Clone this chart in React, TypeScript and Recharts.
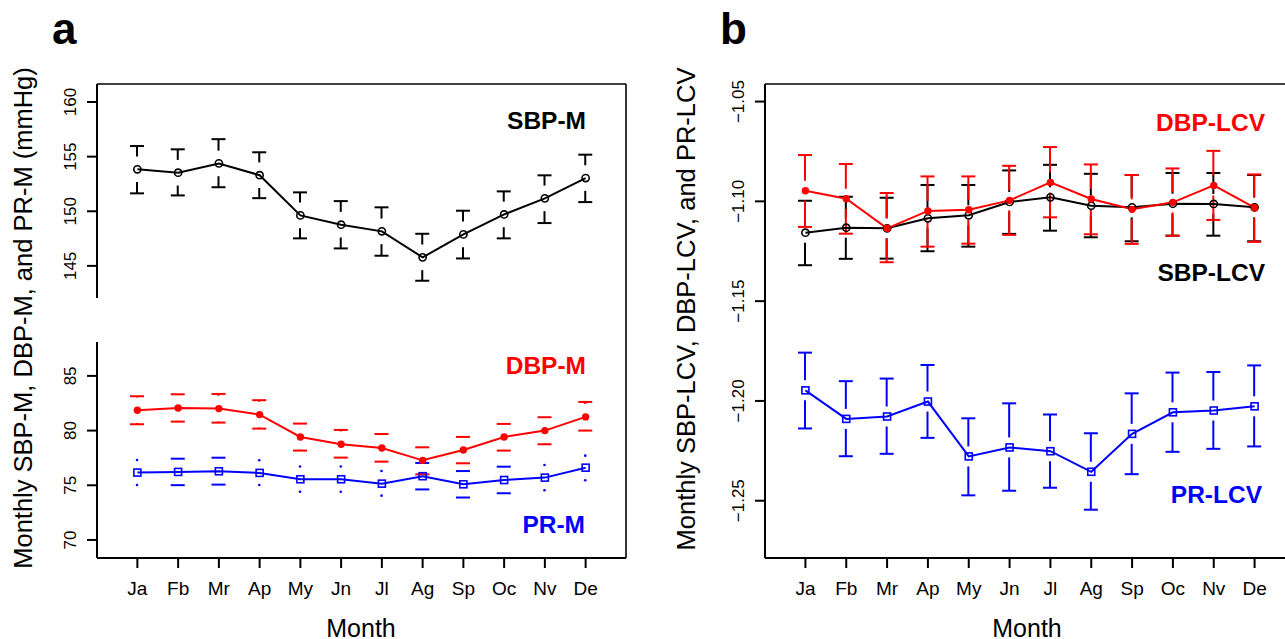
import React from "react";
import { ComposedChart, Line, Bar, XAxis, YAxis } from "recharts";

const months = ["Ja", "Fb", "Mr", "Ap", "My", "Jn", "Jl", "Ag", "Sp", "Oc", "Nv", "De"];

// panel a, mmHg
const sbpM = [153.84, 153.53, 154.38, 153.3, 149.62, 148.77, 148.16, 145.78, 147.88, 149.71, 151.18, 153.04];
const sbpMHi = [155.97, 155.67, 156.6, 155.4, 151.73, 150.93, 150.36, 147.94, 150.05, 151.82, 153.29, 155.18];
const sbpMLo = [151.64, 151.45, 152.2, 151.2, 147.52, 146.6, 145.93, 143.64, 145.68, 147.52, 148.92, 150.84];

const dbpM = [81.86, 82.07, 82.01, 81.46, 79.42, 78.75, 78.41, 77.28, 78.23, 79.42, 80.0, 81.25];
const dbpMHi = [83.14, 83.32, 83.35, 82.78, 80.64, 80.06, 79.69, 78.47, 79.42, 80.61, 81.22, 82.62];
const dbpMLo = [80.58, 80.82, 80.73, 80.18, 78.17, 77.53, 77.16, 76.0, 77.01, 78.17, 78.75, 80.0];

const prM = [76.16, 76.22, 76.28, 76.13, 75.55, 75.55, 75.15, 75.83, 75.09, 75.48, 75.7, 76.61];
const prMHi = [77.31, 77.43, 77.52, 77.29, 76.71, 76.71, 76.31, 77.04, 76.3, 76.7, 76.86, 77.71];
const prMLo = [75.03, 75.01, 75.06, 75.03, 74.41, 74.41, 74.05, 74.62, 73.88, 74.27, 74.54, 75.46];

// panel b, log CV
const sbpLcv = [-1.1157, -1.1132, -1.1135, -1.1085, -1.107, -1.1003, -1.098, -1.1022, -1.103, -1.1012, -1.1013, -1.103];
const sbpLcvHi = [-1.0997, -1.0977, -1.0982, -1.0918, -1.0918, -1.0845, -1.0817, -1.0862, -1.0868, -1.0858, -1.0858, -1.0868];
const sbpLcvLo = [-1.132, -1.1288, -1.1287, -1.125, -1.1227, -1.1163, -1.1147, -1.118, -1.12, -1.1172, -1.1172, -1.12];

const dbpLcv = [-1.0947, -1.0987, -1.1135, -1.1048, -1.1042, -1.0995, -1.0905, -1.0988, -1.104, -1.1005, -1.092, -1.1032];
const dbpLcvHi = [-1.0768, -1.0813, -1.0958, -1.0875, -1.0875, -1.0822, -1.0728, -1.0815, -1.0868, -1.0835, -1.0747, -1.0865];
const dbpLcvLo = [-1.1128, -1.1162, -1.1305, -1.1227, -1.1212, -1.1168, -1.108, -1.1165, -1.1213, -1.1172, -1.1093, -1.1203];

const prLcv = [-1.1947, -1.209, -1.2078, -1.2003, -1.2278, -1.2233, -1.2252, -1.2355, -1.2165, -1.2057, -1.2048, -1.2027];
const prLcvHi = [-1.1758, -1.1901, -1.1888, -1.182, -1.2087, -1.2012, -1.2068, -1.2162, -1.1962, -1.1858, -1.1855, -1.1822];
const prLcvLo = [-1.2138, -1.2277, -1.2265, -1.2185, -1.2473, -1.245, -1.2435, -1.2545, -1.2367, -1.2255, -1.224, -1.2228];

const sbpTicks = [145, 150, 155, 160];
const lowTicks = [70, 75, 80, 85];
const lcvTicks = [-1.05, -1.1, -1.15, -1.2, -1.25];

const FONT = '"Liberation Sans", Arial, Helvetica, sans-serif';

const rowsA = months.map((m, i) => ({
  m,
  sbp: sbpM[i], sbpLo: sbpMLo[i], sbpHi: sbpMHi[i],
  dbp: dbpM[i], dbpLo: dbpMLo[i], dbpHi: dbpMHi[i],
  pr: prM[i], prLo: prMLo[i], prHi: prMHi[i],
}));

const rowsB = months.map((m, i) => ({
  m,
  sbp: sbpLcv[i], sbpLo: sbpLcvLo[i], sbpHi: sbpLcvHi[i],
  dbp: dbpLcv[i], dbpLo: dbpLcvLo[i], dbpHi: dbpLcvHi[i],
  pr: prLcv[i], prLo: prLcvLo[i], prHi: prLcvHi[i],
}));

type Spec = { key: string; color: string; marker: "circle" | "dot" | "square" };

// plotCI-like bar: stems stop short of the point, cap at the end, dot if nothing left
function errShape(key: string, color: string, gap: number) {
  return (props: any) => {
    const { x, y, width, height, payload, index } = props;
    if (x == null || y == null || !payload) return <g key={index} />;
    const top = Math.min(y, y + height);
    const bot = Math.max(y, y + height);
    const hi = payload[key + "Hi"];
    const lo = payload[key + "Lo"];
    const ppu = (bot - top) / (hi - lo);
    const my = top + (hi - payload[key]) * ppu;
    const cx = x + width / 2;
    const out: React.ReactNode[] = [];
    [[top, -1], [bot, 1]].forEach(([capY, dir], j) => {
      const end = my + dir * gap;
      const len = dir * (capY - end);
      if (len > 0.2) {
        out.push(<line key={"s" + j} x1={cx} y1={end} x2={cx} y2={capY} stroke={color} strokeWidth={2} />);
        out.push(<line key={"c" + j} x1={cx - 7} y1={capY} x2={cx + 7} y2={capY} stroke={color} strokeWidth={2} />);
      } else {
        out.push(<circle key={"d" + j} cx={cx} cy={capY} r={1.3} fill={color} />);
      }
    });
    return <g key={index}>{out}</g>;
  };
}

function marker(s: Spec) {
  return (p: any) => {
    const { cx, cy, index } = p;
    const k = s.key + "-" + index;
    if (cx == null || cy == null) return <g key={k} />;
    if (s.marker === "square")
      return <rect key={k} x={cx - 3.5} y={cy - 3.5} width={7} height={7} fill="none" stroke={s.color} strokeWidth={1.6} />;
    if (s.marker === "dot") return <circle key={k} cx={cx} cy={cy} r={3.7} fill={s.color} />;
    return <circle key={k} cx={cx} cy={cy} r={3.6} fill="none" stroke={s.color} strokeWidth={1.6} />;
  };
}

const RotTick = (props: any) => {
  const { x, y, payload, fmt } = props;
  return (
    <text transform={`translate(${x},${y}) rotate(-90)`} textAnchor="middle" fontSize={17} fill="#000" fontFamily={FONT}>
      {fmt(payload.value)}
    </text>
  );
};

const axisStroke = { stroke: "#000", strokeWidth: 2 };

function Panel(props: {
  data: any[];
  specs: Spec[];
  left: number;
  top: number;
  width: number;
  height: number;
  margin: { top: number; right: number; bottom: number; left: number };
  domain: [number, number];
  ticks: number[];
  fmtY: (v: number) => string;
  showX: boolean;
  gap: number;
}) {
  const { data, specs, left, top, width, height, margin, domain, ticks, fmtY, showX, gap } = props;
  return (
    <div style={{ position: "absolute", left, top, width, height }}>
      <ComposedChart width={width} height={height} data={data} margin={margin}>
        <XAxis
          xAxisId="x"
          dataKey="m"
          type="category"
          interval={0}
          padding={{ left: 20, right: 20 }}
          hide={!showX}
          height={showX ? 50 : 0}
          tickSize={10}
          tickMargin={13.5}
          tick={{ fontSize: 19, fill: "#000", fontFamily: FONT }}
          axisLine={axisStroke}
          tickLine={axisStroke}
        />
        {specs.map((s, i) => (
          <XAxis
            key={"ax" + s.key}
            xAxisId={"e" + i}
            dataKey="m"
            type="category"
            orientation="top"
            height={0}
            padding={{ left: 20, right: 20 }}
            hide
          />
        ))}
        <YAxis
          type="number"
          domain={domain}
          ticks={ticks}
          allowDataOverflow
          interval={0}
          width={60}
          tickSize={10}
          tickMargin={11.5}
          axisLine={axisStroke}
          tickLine={axisStroke}
          tick={(p: any) => <RotTick {...p} fmt={fmtY} />}
        />
        {specs.map((s, i) => (
          <Bar
            key={"b" + s.key}
            xAxisId={"e" + i}
            dataKey={(d: any) => [d[s.key + "Lo"], d[s.key + "Hi"]]}
            barSize={2}
            shape={errShape(s.key, s.color, gap)}
            isAnimationActive={false}
          />
        ))}
        {specs.map((s) => (
          <Line
            key={"l" + s.key}
            xAxisId="x"
            dataKey={s.key}
            stroke={s.color}
            strokeWidth={2}
            dot={marker(s)}
            activeDot={false}
            isAnimationActive={false}
          />
        ))}
      </ComposedChart>
    </div>
  );
}

const fmtInt = (v: number) => String(v);
const fmtLcv = (v: number) => v.toFixed(2).replace("-", "\u2212");

export default function App() {
  return (
    <div
      style={{
        position: "absolute",
        left: 0,
        top: 0,
        width: 1285,
        height: 639,
        overflow: "hidden",
        background: "#fff",
        fontFamily: FONT,
      }}
    >
      <Panel
        data={rowsA}
        specs={[{ key: "sbp", color: "#000000", marker: "circle" }]}
        left={0}
        top={0}
        width={640}
        height={300}
        margin={{ top: 84, right: 14, bottom: 2, left: 37 }}
        domain={[142.06, 161.65]}
        ticks={sbpTicks}
        fmtY={fmtInt}
        showX={false}
        gap={12.8}
      />
      <Panel
        data={rowsA}
        specs={[
          { key: "dbp", color: "#ff0000", marker: "dot" },
          { key: "pr", color: "#0000ff", marker: "square" },
        ]}
        left={0}
        top={330}
        width={640}
        height={309}
        margin={{ top: 12, right: 14, bottom: 31, left: 37 }}
        domain={[68.35, 88.1]}
        ticks={lowTicks}
        fmtY={fmtInt}
        showX={true}
        gap={12.8}
      />
      <Panel
        data={rowsB}
        specs={[
          { key: "sbp", color: "#000000", marker: "circle" },
          { key: "dbp", color: "#ff0000", marker: "dot" },
          { key: "pr", color: "#0000ff", marker: "square" },
        ]}
        left={668}
        top={0}
        width={640}
        height={639}
        margin={{ top: 84, right: 13, bottom: 31, left: 37 }}
        domain={[-1.2787, -1.0412]}
        ticks={lcvTicks}
        fmtY={fmtLcv}
        showX={true}
        gap={10}
      />
      <svg width={1285} height={639} style={{ position: "absolute", left: 0, top: 0, pointerEvents: "none" }} fontFamily={FONT}>
        <line x1={97} y1={84} x2={626} y2={84} stroke="#000" strokeWidth={1.6} />
        <line x1={626} y1={84} x2={626} y2={558} stroke="#000" strokeWidth={1.6} />
        <line x1={765} y1={84} x2={1285} y2={84} stroke="#000" strokeWidth={1.6} />

        <text x={52} y={44} fontSize={44} fontWeight="bold" fill="#000">a</text>
        <text x={720} y={44} fontSize={44} fontWeight="bold" fill="#000">b</text>

        <text transform="translate(32,318) rotate(-90)" textAnchor="middle" fontSize={25.5} fill="#000">
          Monthly SBP-M, DBP-M, and PR-M (mmHg)
        </text>
        <text transform="translate(695,309) rotate(-90)" textAnchor="middle" fontSize={25.5} fill="#000">
          Monthly SBP-LCV, DBP-LCV, and PR-LCV
        </text>

        <text x={361} y={637} textAnchor="middle" fontSize={25} fill="#000">Month</text>
        <text x={1027} y={637} textAnchor="middle" fontSize={25} fill="#000">Month</text>

        <text x={586} y={129} textAnchor="end" fontSize={24.5} fontWeight="bold" fill="#000">SBP-M</text>
        <text x={586} y={374} textAnchor="end" fontSize={24.5} fontWeight="bold" fill="#ff0000">DBP-M</text>
        <text x={585} y={533} textAnchor="end" fontSize={24.5} fontWeight="bold" fill="#0000ff">PR-M</text>
        <text x={1265} y={131} textAnchor="end" fontSize={24.5} fontWeight="bold" fill="#ff0000">DBP-LCV</text>
        <text x={1265} y={281} textAnchor="end" fontSize={24.5} fontWeight="bold" fill="#000">SBP-LCV</text>
        <text x={1262} y={503} textAnchor="end" fontSize={24.5} fontWeight="bold" fill="#0000ff">PR-LCV</text>
      </svg>
    </div>
  );
}
